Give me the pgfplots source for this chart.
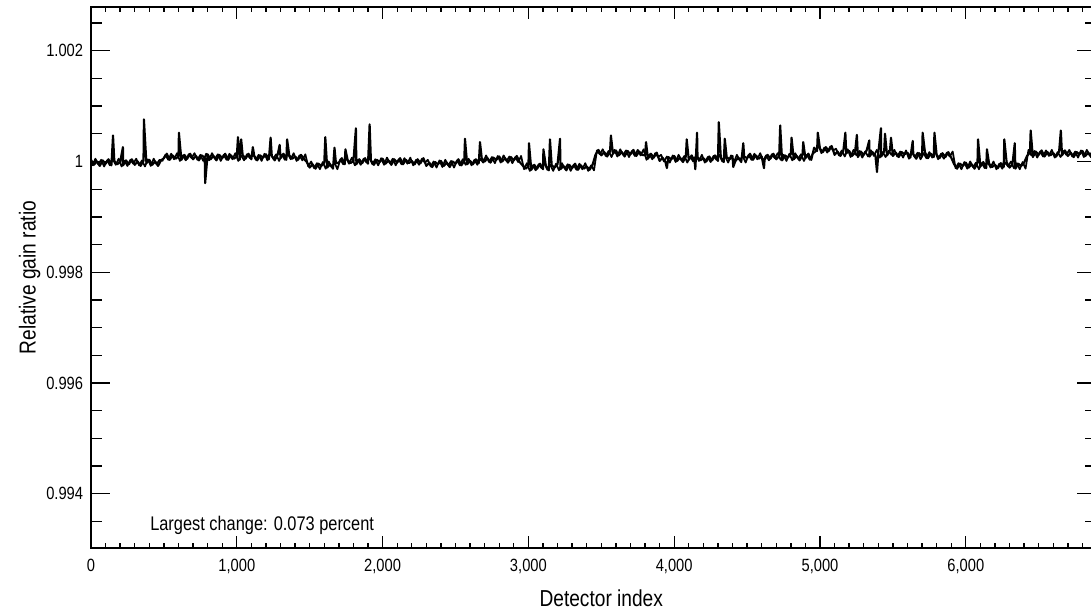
\documentclass[border=0pt]{standalone}
\usepackage{fontspec}
\setmainfont{Liberation Sans}[FakeStretch=0.83]
\usepackage{pgfplots}
\pgfplotsset{compat=1.18}
\begin{document}
\begin{tikzpicture}
\useasboundingbox (-68.25pt,-46.5pt) rectangle (750pt,411pt);
\begin{axis}[
  at={(0,0)}, anchor=south west,
  scale only axis,
  width=753.4pt, height=405.75pt,
  xmin=0, xmax=6890,
  ymin=0.99302, ymax=1.00279,
  xtick={0,1000,2000,3000,4000,5000,6000},
  xticklabels={0,{1,000},{2,000},{3,000},{4,000},{5,000},{6,000}},
  minor xtick={0,100,...,6800},
  ytick={0.994,0.996,0.998,1,1.002},
  yticklabels={0.994,0.996,0.998,1,1.002},
  minor ytick={0.9935,0.9945,0.995,0.9955,0.9965,0.997,0.9975,0.9985,0.999,0.9995,1.0005,1.001,1.0015,1.0025},
  tick align=inside,
  xtick style={black,line width=1pt,/pgfplots/major tick length=9pt,/pgfplots/minor tick length=3.75pt},
  ytick style={black,line width=1pt,/pgfplots/major tick length=14pt,/pgfplots/minor tick length=8pt},
  axis line style={line width=1.6pt},
  /pgf/number format/assume math mode=true,
  ticklabel style={font=\fontsize{13.3}{15}\selectfont},
  xticklabel style={yshift=-5pt},
  yticklabel style={xshift=-2.4pt},
  xlabel={Detector index},
  ylabel={Relative gain ratio},
  label style={font=\fontsize{17.3}{20}\selectfont},
  xlabel style={at={([xshift=6pt,yshift=-37.5pt]axis description cs:0.5,0)},anchor=center},
  ylabel style={at={([xshift=-46pt]axis description cs:0,0.5)},anchor=center},
  clip=true,
]
\addplot[black, line width=1.6pt, line join=round] coordinates {
(0,1.00003)(20,0.99994)(40,1.00000)(60,0.99992)(80,1.00002)
(100,0.99996)(120,1.00004)(140,0.99993)(151,1.00047)(160,1.00001)(180,0.99995)
(200,0.99999)(219,1.00026)(220,0.99993)(240,1.00002)(260,0.99995)(280,1.00004)
(300,0.99994)(320,1.00000)(340,0.99992)(360,1.00001)(363,1.00076)(380,0.99997)
(400,1.00003)(420,0.99994)(440,1.00000)(460,0.99992)(480,1.00002)
(500,1.00006)(520,1.00014)(540,1.00003)(560,1.00011)(580,1.00005)
(600,1.00009)(603,1.00052)(620,1.00003)(640,1.00012)(660,1.00005)(680,1.00014)
(700,1.00004)(720,1.00010)(740,1.00002)(760,1.00011)(780,1.00007)(783,0.99961)
(800,1.00013)(820,1.00004)(840,1.00010)(860,1.00002)(880,1.00012)
(900,1.00006)(920,1.00014)(940,1.00003)(960,1.00011)(980,1.00005)
(1000,1.00009)(1008,1.00044)(1020,1.00003)(1030,1.00040)(1040,1.00012)(1060,1.00005)(1080,1.00014)
(1100,1.00004)(1110,1.00026)(1120,1.00010)(1140,1.00002)(1160,1.00011)(1180,1.00007)
(1200,1.00013)(1220,1.00004)(1232,1.00043)(1240,1.00010)(1260,1.00002)(1280,1.00012)(1294,1.00030)
(1300,1.00006)(1320,1.00014)(1340,1.00003)(1345,1.00040)(1360,1.00011)(1380,1.00005)
(1400,1.00009)(1420,1.00003)(1440,1.00012)(1460,1.00005)(1480,0.99999)
(1500,0.99989)(1520,0.99995)(1540,0.99987)(1560,0.99996)(1580,0.99992)
(1600,0.99998)(1607,1.00044)(1620,0.99989)(1640,0.99995)(1660,0.99987)(1670,1.00025)(1680,0.99997)
(1700,0.99998)(1720,1.00006)(1740,0.99995)(1745,1.00022)(1760,1.00003)(1780,0.99997)
(1800,1.00001)(1817,1.00060)(1820,0.99995)(1840,1.00004)(1860,0.99997)(1880,1.00006)
(1900,0.99996)(1911,1.00067)(1920,1.00002)(1940,0.99994)(1960,1.00003)(1980,0.99999)
(2000,1.00005)(2020,0.99996)(2040,1.00002)(2060,0.99994)(2080,1.00004)
(2100,0.99998)(2120,1.00006)(2140,0.99995)(2160,1.00003)(2180,0.99997)
(2200,1.00001)(2220,0.99995)(2240,1.00004)(2260,0.99997)(2280,1.00006)
(2300,0.99992)(2320,0.99998)(2340,0.99990)(2360,0.99999)(2380,0.99995)
(2400,1.00001)(2420,0.99992)(2440,0.99998)(2460,0.99990)(2480,1.00000)
(2500,0.99996)(2520,1.00004)(2540,0.99993)(2560,1.00001)(2565,1.00041)(2580,0.99995)
(2600,1.00001)(2620,0.99995)(2640,1.00004)(2660,0.99997)(2668,1.00035)(2680,1.00006)
(2700,1.00000)(2720,1.00006)(2740,0.99998)(2760,1.00007)(2780,1.00003)
(2800,1.00009)(2820,1.00000)(2840,1.00006)(2860,0.99998)(2880,1.00008)
(2900,1.00002)(2920,1.00010)(2940,0.99999)(2960,0.99993)(2980,0.99987)
(3000,0.99991)(3004,1.00033)(3020,0.99985)(3040,0.99994)(3060,0.99987)(3080,0.99996)
(3100,0.99986)(3103,1.00022)(3120,0.99992)(3140,0.99984)(3148,1.00040)(3160,0.99993)(3180,0.99989)
(3200,0.99995)(3217,1.00041)(3220,0.99986)(3240,0.99992)(3260,0.99984)(3280,0.99994)
(3300,0.99988)(3320,0.99996)(3340,0.99985)(3360,0.99993)(3380,0.99987)
(3400,0.99991)(3420,0.99985)(3440,0.99994)(3460,1.00012)(3480,1.00021)
(3500,1.00011)(3520,1.00017)(3540,1.00009)(3560,1.00018)(3566,1.00047)(3580,1.00014)
(3600,1.00020)(3620,1.00011)(3640,1.00017)(3660,1.00009)(3680,1.00019)
(3700,1.00013)(3720,1.00021)(3740,1.00010)(3760,1.00018)(3780,1.00012)
(3800,1.00011)(3807,1.00035)(3820,1.00005)(3840,1.00014)(3860,1.00007)(3880,1.00016)
(3900,1.00001)(3920,1.00007)(3940,0.99999)(3950,0.99988)(3960,1.00008)(3980,1.00004)
(4000,1.00010)(4020,1.00001)(4040,1.00007)(4060,0.99999)(4080,1.00009)(4086,1.00040)
(4100,1.00003)(4120,1.00011)(4140,1.00000)(4145,0.99986)(4157,1.00052)(4160,1.00008)(4180,1.00002)
(4200,1.00006)(4220,1.00000)(4240,1.00009)(4260,1.00002)(4280,1.00011)
(4300,1.00001)(4306,1.00071)(4320,1.00007)(4340,0.99999)(4347,1.00041)(4360,1.00008)(4380,1.00004)
(4400,1.00010)(4405,0.99990)(4420,1.00001)(4440,1.00007)(4460,0.99999)(4474,1.00033)(4480,1.00009)
(4500,1.00006)(4520,1.00014)(4540,1.00003)(4560,1.00011)(4580,1.00005)
(4600,1.00009)(4616,0.99988)(4620,1.00003)(4640,1.00012)(4660,1.00005)(4680,1.00014)
(4700,1.00004)(4720,1.00010)(4727,1.00065)(4740,1.00002)(4760,1.00011)(4780,1.00007)
(4800,1.00013)(4805,1.00043)(4820,1.00004)(4840,1.00010)(4860,1.00002)(4880,1.00012)(4885,1.00035)
(4900,1.00006)(4920,1.00014)(4940,1.00003)(4960,1.00025)(4980,1.00019)(4985,1.00052)
(5000,1.00023)(5020,1.00017)(5040,1.00026)(5060,1.00019)(5080,1.00028)
(5100,1.00012)(5120,1.00018)(5140,1.00010)(5160,1.00019)(5174,1.00052)(5180,1.00015)
(5200,1.00019)(5220,1.00010)(5240,1.00016)(5253,1.00048)(5260,1.00008)(5280,1.00018)
(5300,1.00012)(5320,1.00020)(5338,1.00038)(5340,1.00009)(5360,1.00017)(5380,1.00011)(5391,0.99981)
(5400,1.00015)(5418,1.00060)(5420,1.00009)(5440,1.00018)(5446,1.00050)(5460,1.00011)(5480,1.00020)(5487,1.00043)
(5500,1.00010)(5520,1.00016)(5540,1.00008)(5560,1.00017)(5580,1.00013)
(5600,1.00016)(5620,1.00007)(5636,1.00037)(5640,1.00013)(5660,1.00005)(5680,1.00015)
(5700,1.00009)(5704,1.00052)(5720,1.00017)(5740,1.00006)(5760,1.00014)(5780,1.00008)(5785,1.00052)
(5800,1.00012)(5820,1.00006)(5840,1.00015)(5860,1.00008)(5880,1.00017)
(5900,1.00007)(5920,0.99995)(5940,0.99987)(5960,0.99996)(5980,0.99992)
(6000,0.99998)(6020,0.99989)(6040,0.99995)(6060,0.99987)(6080,0.99997)(6084,1.00040)
(6100,0.99991)(6120,0.99999)(6140,0.99988)(6145,1.00022)(6160,0.99996)(6180,0.99990)
(6200,0.99994)(6220,0.99988)(6240,0.99997)(6260,0.99990)(6264,1.00040)(6280,0.99999)
(6300,0.99989)(6320,0.99995)(6336,1.00033)(6340,0.99987)(6360,0.99996)(6380,0.99992)
(6400,0.99998)(6420,1.00010)(6440,1.00016)(6445,1.00056)(6460,1.00008)(6480,1.00018)
(6500,1.00012)(6520,1.00020)(6540,1.00009)(6560,1.00017)(6580,1.00011)
(6600,1.00015)(6620,1.00009)(6640,1.00018)(6652,1.00056)(6660,1.00011)(6680,1.00020)
(6700,1.00010)(6720,1.00016)(6740,1.00008)(6760,1.00017)(6780,1.00013)
(6800,1.00019)(6820,1.00010)(6840,1.00016)(6860,1.00008)(6880,1.00018)
};
\addplot[black, line width=1.3pt, line join=round] coordinates {
(10,0.99992)(30,1.00005)(50,0.99995)(70,1.00003)(90,0.99991)
(110,1.00002)(130,0.99993)(150,1.00004)(170,0.99994)(190,1.00005)
(210,0.99991)(230,1.00001)(250,0.99992)(270,1.00003)(290,0.99996)
(310,1.00005)(330,0.99993)(350,1.00002)(370,0.99991)(390,1.00004)
(410,0.99992)(430,1.00005)(450,0.99995)(470,1.00003)(490,1.00001)
(510,1.00012)(530,1.00003)(550,1.00014)(570,1.00004)(590,1.00015)
(610,1.00001)(630,1.00011)(650,1.00002)(670,1.00013)(690,1.00006)
(710,1.00015)(730,1.00003)(750,1.00012)(770,1.00001)(790,1.00014)
(810,1.00002)(830,1.00015)(850,1.00005)(870,1.00013)(890,1.00001)
(910,1.00012)(930,1.00003)(950,1.00014)(970,1.00004)(990,1.00015)
(1010,1.00001)(1030,1.00011)(1050,1.00002)(1070,1.00013)(1090,1.00006)
(1110,1.00015)(1130,1.00003)(1150,1.00012)(1170,1.00001)(1190,1.00014)
(1210,1.00002)(1230,1.00015)(1250,1.00005)(1270,1.00013)(1290,1.00001)
(1310,1.00012)(1330,1.00003)(1350,1.00014)(1370,1.00004)(1390,1.00015)
(1410,1.00001)(1430,1.00011)(1450,1.00002)(1470,1.00013)(1490,0.99991)
(1510,1.00000)(1530,0.99988)(1550,0.99997)(1570,0.99986)(1590,0.99999)
(1610,0.99987)(1630,1.00000)(1650,0.99990)(1670,0.99998)(1690,0.99986)
(1710,1.00004)(1730,0.99995)(1750,1.00006)(1770,0.99996)(1790,1.00007)
(1810,0.99993)(1830,1.00003)(1850,0.99994)(1870,1.00005)(1890,0.99998)
(1910,1.00007)(1930,0.99995)(1950,1.00004)(1970,0.99993)(1990,1.00006)
(2010,0.99994)(2030,1.00007)(2050,0.99997)(2070,1.00005)(2090,0.99993)
(2110,1.00004)(2130,0.99995)(2150,1.00006)(2170,0.99996)(2190,1.00007)
(2210,0.99993)(2230,1.00003)(2250,0.99994)(2270,1.00005)(2290,0.99998)
(2310,1.00003)(2330,0.99991)(2350,1.00000)(2370,0.99989)(2390,1.00002)
(2410,0.99990)(2430,1.00003)(2450,0.99993)(2470,1.00001)(2490,0.99989)
(2510,1.00002)(2530,0.99993)(2550,1.00004)(2570,0.99994)(2590,1.00005)
(2610,0.99993)(2630,1.00003)(2650,0.99994)(2670,1.00005)(2690,0.99998)
(2710,1.00011)(2730,0.99999)(2750,1.00008)(2770,0.99997)(2790,1.00010)
(2810,0.99998)(2830,1.00011)(2850,1.00001)(2870,1.00009)(2890,0.99997)
(2910,1.00008)(2930,0.99999)(2950,1.00010)(2970,0.99986)(2990,0.99997)
(3010,0.99983)(3030,0.99993)(3050,0.99984)(3070,0.99995)(3090,0.99988)
(3110,0.99997)(3130,0.99985)(3150,0.99994)(3170,0.99983)(3190,0.99996)
(3210,0.99984)(3230,0.99997)(3250,0.99987)(3270,0.99995)(3290,0.99983)
(3310,0.99994)(3330,0.99985)(3350,0.99996)(3370,0.99986)(3390,0.99997)
(3410,0.99983)(3430,0.99993)(3450,0.99984)(3470,1.00020)(3490,1.00013)
(3510,1.00022)(3530,1.00010)(3550,1.00019)(3570,1.00008)(3590,1.00021)
(3610,1.00009)(3630,1.00022)(3650,1.00012)(3670,1.00020)(3690,1.00008)
(3710,1.00019)(3730,1.00010)(3750,1.00021)(3770,1.00011)(3790,1.00022)
(3810,1.00003)(3830,1.00013)(3850,1.00004)(3870,1.00015)(3890,1.00008)
(3910,1.00012)(3930,1.00000)(3950,1.00009)(3970,0.99998)(3990,1.00011)
(4010,0.99999)(4030,1.00012)(4050,1.00002)(4070,1.00010)(4090,0.99998)
(4110,1.00009)(4130,1.00000)(4150,1.00011)(4170,1.00001)(4190,1.00012)
(4210,0.99998)(4230,1.00008)(4250,0.99999)(4270,1.00010)(4290,1.00003)
(4310,1.00012)(4330,1.00000)(4350,1.00009)(4370,0.99998)(4390,1.00011)
(4410,0.99999)(4430,1.00012)(4450,1.00002)(4470,1.00010)(4490,0.99998)
(4510,1.00012)(4530,1.00003)(4550,1.00014)(4570,1.00004)(4590,1.00015)
(4610,1.00001)(4630,1.00011)(4650,1.00002)(4670,1.00013)(4690,1.00006)
(4710,1.00015)(4730,1.00003)(4750,1.00012)(4770,1.00001)(4790,1.00014)
(4810,1.00002)(4830,1.00015)(4850,1.00005)(4870,1.00013)(4890,1.00001)
(4910,1.00012)(4930,1.00003)(4950,1.00014)(4970,1.00018)(4990,1.00029)
(5010,1.00015)(5030,1.00025)(5050,1.00016)(5070,1.00027)(5090,1.00020)
(5110,1.00023)(5130,1.00011)(5150,1.00020)(5170,1.00009)(5190,1.00022)
(5210,1.00008)(5230,1.00021)(5250,1.00011)(5270,1.00019)(5290,1.00007)
(5310,1.00018)(5330,1.00009)(5350,1.00020)(5370,1.00010)(5390,1.00021)
(5410,1.00007)(5430,1.00017)(5450,1.00008)(5470,1.00019)(5490,1.00012)
(5510,1.00021)(5530,1.00009)(5550,1.00018)(5570,1.00007)(5590,1.00020)
(5610,1.00005)(5630,1.00018)(5650,1.00008)(5670,1.00016)(5690,1.00004)
(5710,1.00015)(5730,1.00006)(5750,1.00017)(5770,1.00007)(5790,1.00018)
(5810,1.00004)(5830,1.00014)(5850,1.00005)(5870,1.00016)(5890,1.00009)
(5910,1.00018)(5930,0.99988)(5950,0.99997)(5970,0.99986)(5990,0.99999)
(6010,0.99987)(6030,1.00000)(6050,0.99990)(6070,0.99998)(6090,0.99986)
(6110,0.99997)(6130,0.99988)(6150,0.99999)(6170,0.99989)(6190,1.00000)
(6210,0.99986)(6230,0.99996)(6250,0.99987)(6270,0.99998)(6290,0.99991)
(6310,1.00000)(6330,0.99988)(6350,0.99997)(6370,0.99986)(6390,0.99999)
(6410,0.99987)(6430,1.00021)(6450,1.00011)(6470,1.00019)(6490,1.00007)
(6510,1.00018)(6530,1.00009)(6550,1.00020)(6570,1.00010)(6590,1.00021)
(6610,1.00007)(6630,1.00017)(6650,1.00008)(6670,1.00019)(6690,1.00012)
(6710,1.00021)(6730,1.00009)(6750,1.00018)(6770,1.00007)(6790,1.00020)
(6810,1.00008)(6830,1.00021)(6850,1.00011)(6870,1.00019)(6890,1.00007)
};
\node[anchor=west, inner sep=0pt, font=\fontsize{14.8}{17}\selectfont] at ([xshift=44.25pt,yshift=17pt]rel axis cs:0,0) {Largest change: 0.073 percent};
\end{axis}
\end{tikzpicture}
\end{document}
